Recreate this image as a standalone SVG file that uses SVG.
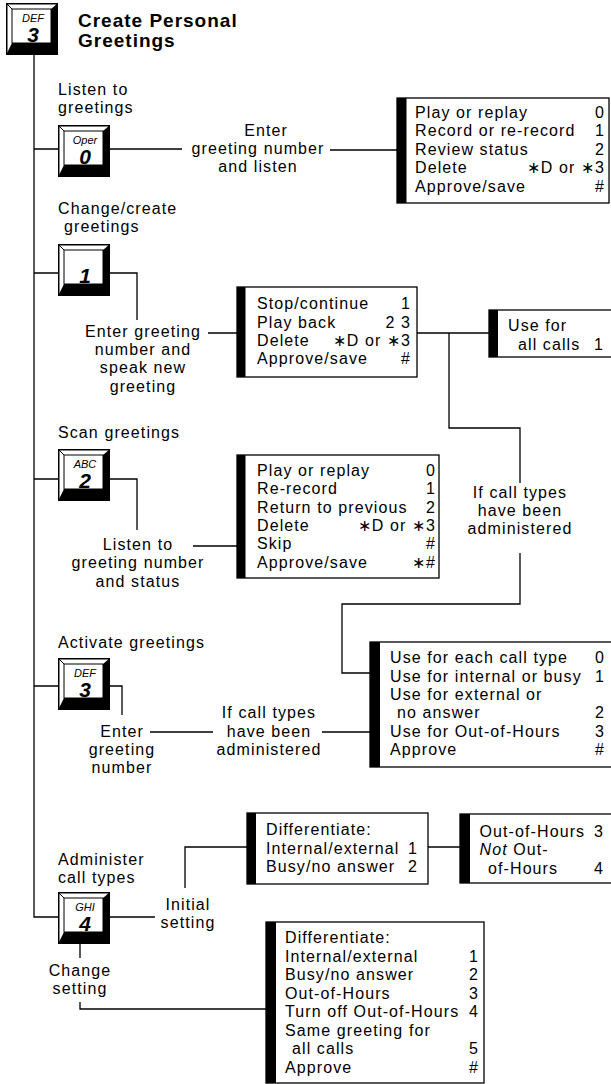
<svg xmlns="http://www.w3.org/2000/svg" xmlns:xlink="http://www.w3.org/1999/xlink" width="611" height="1084" viewBox="0 0 611 1084">
<style>
.t{font-family:"Liberation Sans",Arial,sans-serif;font-size:16px;letter-spacing:1.1px;fill:#000}
.m{text-anchor:middle}
.e{text-anchor:end}
.i{font-style:italic}
.ttl{font-family:"Liberation Sans",Arial,sans-serif;font-weight:bold;font-size:19px;letter-spacing:1px;fill:#000}
.kl{font-family:"Liberation Sans",Arial,sans-serif;font-style:italic;font-size:11px;text-anchor:middle;fill:#000}
.kd{font-family:"Liberation Sans",Arial,sans-serif;font-style:italic;font-weight:bold;font-size:21px;text-anchor:middle;fill:#000}
.ln{fill:none;stroke:#000;stroke-width:1.3}
.bx{fill:#fff;stroke:#000;stroke-width:1.3}
.bar{fill:#000}
</style>
<defs>
<g id="key">
<rect x="0.75" y="0.75" width="50.5" height="50.5" fill="#fff" stroke="#000" stroke-width="1.5"/>
<path d="M52,0 L52,52 L0,52 L6,40 L45,40 L45,6 Z" fill="#000"/>
<rect x="6" y="6" width="39" height="34" fill="#fff" stroke="#000" stroke-width="1"/>
<path d="M0.5,0.5 L6,6" stroke="#000" stroke-width="1"/>
</g>
</defs>

<g id="connectors">
<path class="ln" d="M34,55 V917 H58"/>
<path class="ln" d="M34,149 H58 M110,149 H182 M330,150 H397"/>
<path class="ln" d="M34,273 H58 M110,273 H137 V320 M208,333 H237"/>
<path class="ln" d="M417,333 H489 M449,333 V428 H520 V483"/>
<path class="ln" d="M520,553 V604 H342 V673 H370"/>
<path class="ln" d="M34,479 H58 M110,479 H137 V530 M193,546 H237"/>
<path class="ln" d="M34,686 H58 M110,686 H122 V715 M150,732 H213 M322,732 H370"/>
<path class="ln" d="M110,917 H155 M185,888 V847 H247 M428,847 H460"/>
<path class="ln" d="M80,943 V958 M80,1002 V1009 H266"/>
</g>

<g id="title">
<use xlink:href="#key" x="6" y="3"/>
<text class="kl" x="33" y="22">DEF</text>
<text class="kd" x="33" y="42">3</text>
<text class="ttl" x="78" y="27">Create Personal</text>
<text class="ttl" x="78" y="47">Greetings</text>
</g>

<g id="listen">
<text class="t" x="58" y="95">Listen to</text>
<text class="t" x="58" y="113">greetings</text>
<use xlink:href="#key" x="58" y="125"/>
<text class="kl" x="85" y="144">Oper</text>
<text class="kd" x="85" y="164">0</text>
<text class="t m" x="266" y="136">Enter</text>
<text class="t m" x="258" y="154">greeting number</text>
<text class="t m" x="258" y="172">and listen</text>
</g>

<g id="menu-listen">
<rect class="bx" x="397" y="98" width="212" height="105"/>
<rect class="bar" x="397" y="98" width="9.5" height="105"/>
<text class="t" x="415" y="118">Play or replay</text>
<text class="t" x="415" y="136.4">Record or re-record</text>
<text class="t" x="415" y="154.8">Review status</text>
<text class="t" x="415" y="173.2">Delete</text>
<text class="t" x="415" y="191.6">Approve/save</text>
<text class="t e" x="605" y="118">0</text>
<text class="t e" x="605" y="136.4">1</text>
<text class="t e" x="605" y="154.8">2</text>
<text class="t e" x="605" y="173.2">∗D or ∗3</text>
<text class="t e" x="605" y="191.6">#</text>
</g>

<g id="change">
<text class="t" x="58" y="214">Change/create</text>
<text class="t" x="64" y="232">greetings</text>
<use xlink:href="#key" x="58" y="244"/>
<text class="kd" x="85" y="283">1</text>
<text class="t m" x="143" y="336.7">Enter greeting</text>
<text class="t m" x="143" y="355">number and</text>
<text class="t m" x="143" y="373.3">speak new</text>
<text class="t m" x="143" y="391.7">greeting</text>
</g>

<g id="menu-change">
<rect class="bx" x="237" y="287" width="180" height="90"/>
<rect class="bar" x="237" y="287" width="8.5" height="90"/>
<text class="t" x="257" y="309.3">Stop/continue</text>
<text class="t" x="257" y="327.6">Play back</text>
<text class="t" x="257" y="346">Delete</text>
<text class="t" x="257" y="364.3">Approve/save</text>
<text class="t e" x="411" y="309.3">1</text>
<text class="t e" x="411" y="327.6">2 3</text>
<text class="t e" x="411" y="346">∗D or ∗3</text>
<text class="t e" x="411" y="364.3">#</text>
</g>

<g id="menu-allcalls">
<rect class="bx" x="489" y="310" width="130" height="47"/>
<rect class="bar" x="489" y="310" width="9" height="47"/>
<text class="t" x="508" y="331">Use for</text>
<text class="t" x="518" y="349.5">all calls</text>
<text class="t e" x="604" y="349.5">1</text>
</g>

<g id="cond1">
<text class="t m" x="520" y="497.5">If call types</text>
<text class="t m" x="520" y="515.5">have been</text>
<text class="t m" x="520" y="533.5">administered</text>
</g>

<g id="scan">
<text class="t" x="58" y="438">Scan greetings</text>
<use xlink:href="#key" x="58" y="449"/>
<text class="kl" x="85" y="468">ABC</text>
<text class="kd" x="85" y="488">2</text>
<text class="t m" x="138" y="550">Listen to</text>
<text class="t m" x="138" y="568.3">greeting number</text>
<text class="t m" x="138" y="586.7">and status</text>
</g>

<g id="menu-scan">
<rect class="bx" x="237" y="455" width="202" height="123"/>
<rect class="bar" x="237" y="455" width="8.5" height="123"/>
<text class="t" x="257" y="476">Play or replay</text>
<text class="t" x="257" y="494.3">Re-record</text>
<text class="t" x="257" y="512.6">Return to previous</text>
<text class="t" x="257" y="530.9">Delete</text>
<text class="t" x="257" y="549.2">Skip</text>
<text class="t" x="257" y="567.5">Approve/save</text>
<text class="t e" x="436" y="476">0</text>
<text class="t e" x="436" y="494.3">1</text>
<text class="t e" x="436" y="512.6">2</text>
<text class="t e" x="436" y="530.9">∗D or ∗3</text>
<text class="t e" x="436" y="549.2">#</text>
<text class="t e" x="436" y="567.5">∗#</text>
</g>

<g id="activate">
<text class="t" x="58" y="648">Activate greetings</text>
<use xlink:href="#key" x="58" y="658"/>
<text class="kl" x="85" y="677">DEF</text>
<text class="kd" x="85" y="697">3</text>
<text class="t m" x="122" y="736.7">Enter</text>
<text class="t m" x="122" y="755">greeting</text>
<text class="t m" x="122" y="773.3">number</text>
<text class="t m" x="269" y="718.3">If call types</text>
<text class="t m" x="269" y="736.7">have been</text>
<text class="t m" x="269" y="755">administered</text>
</g>

<g id="menu-activate">
<rect class="bx" x="370" y="642" width="250" height="125"/>
<rect class="bar" x="370" y="642" width="10" height="125"/>
<text class="t" x="390" y="663.3">Use for each call type</text>
<text class="t" x="390" y="681.7">Use for internal or busy</text>
<text class="t" x="390" y="700">Use for external or</text>
<text class="t" x="397" y="718.3">no answer</text>
<text class="t" x="390" y="736.7">Use for Out-of-Hours</text>
<text class="t" x="390" y="755">Approve</text>
<text class="t e" x="605" y="663.3">0</text>
<text class="t e" x="605" y="681.7">1</text>
<text class="t e" x="605" y="718.3">2</text>
<text class="t e" x="605" y="736.7">3</text>
<text class="t e" x="605" y="755">#</text>
</g>

<g id="administer">
<text class="t" x="58" y="865">Administer</text>
<text class="t" x="58" y="883">call types</text>
<use xlink:href="#key" x="58" y="892"/>
<text class="kl" x="85" y="911">GHI</text>
<text class="kd" x="85" y="931">4</text>
<text class="t m" x="188" y="910">Initial</text>
<text class="t m" x="188" y="928.3">setting</text>
<text class="t m" x="80" y="976">Change</text>
<text class="t m" x="80" y="994">setting</text>
</g>

<g id="menu-initial">
<rect class="bx" x="247" y="813" width="181" height="71"/>
<rect class="bar" x="247" y="813" width="9" height="71"/>
<text class="t" x="266" y="835">Differentiate:</text>
<text class="t" x="266" y="853.5">Internal/external</text>
<text class="t" x="266" y="872">Busy/no answer</text>
<text class="t e" x="418" y="853.5">1</text>
<text class="t e" x="418" y="872">2</text>
</g>

<g id="menu-hours">
<rect class="bx" x="460" y="814" width="160" height="69"/>
<rect class="bar" x="460" y="814" width="10" height="69"/>
<text class="t" x="479.5" y="836.5">Out-of-Hours</text>
<text class="t" x="479.5" y="855"><tspan class="i">Not</tspan> Out-</text>
<text class="t" x="488" y="873.5">of-Hours</text>
<text class="t e" x="604" y="836.5">3</text>
<text class="t e" x="604" y="873.5">4</text>
</g>

<g id="menu-change-setting">
<rect class="bx" x="266" y="922" width="218" height="161"/>
<rect class="bar" x="266" y="922" width="10" height="161"/>
<text class="t" x="285" y="943.3">Differentiate:</text>
<text class="t" x="285" y="961.8">Internal/external</text>
<text class="t" x="285" y="980.3">Busy/no answer</text>
<text class="t" x="285" y="998.8">Out-of-Hours</text>
<text class="t" x="285" y="1017.3">Turn off Out-of-Hours</text>
<text class="t" x="285" y="1035.8">Same greeting for</text>
<text class="t" x="292" y="1054.3">all calls</text>
<text class="t" x="285" y="1072.8">Approve</text>
<text class="t e" x="479" y="961.8">1</text>
<text class="t e" x="479" y="980.3">2</text>
<text class="t e" x="479" y="998.8">3</text>
<text class="t e" x="479" y="1017.3">4</text>
<text class="t e" x="479" y="1054.3">5</text>
<text class="t e" x="479" y="1072.8">#</text>
</g>
</svg>
